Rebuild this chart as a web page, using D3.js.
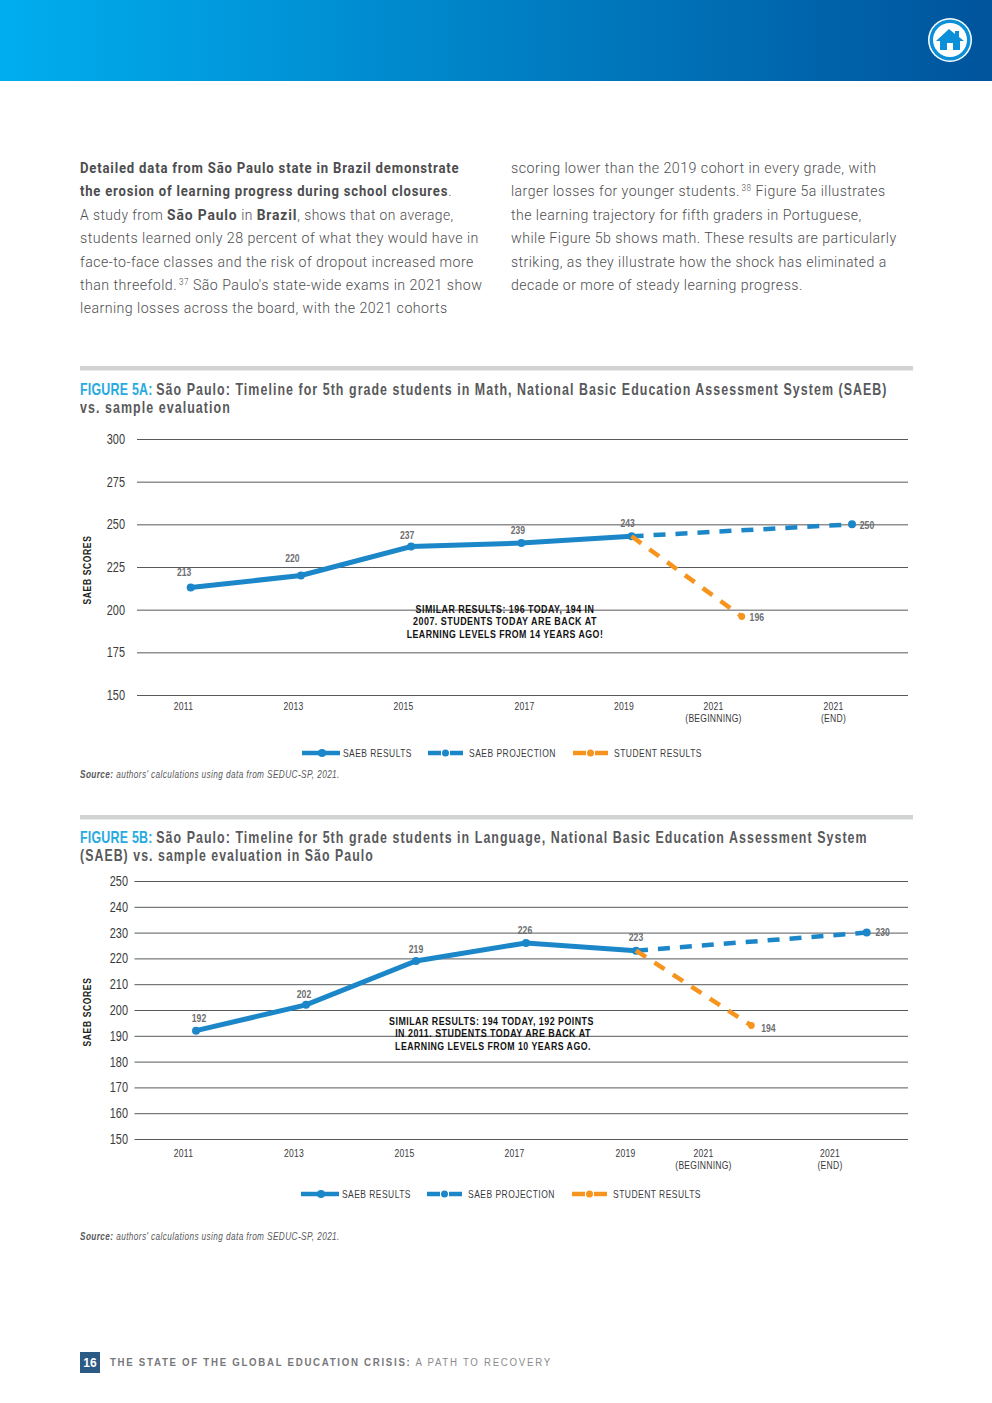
<!DOCTYPE html>
<html lang="en">
<head>
<meta charset="UTF-8"/>
<title>Figure 5</title>
<script src="https://d3js.org/d3.v7.min.js"></script>
<style>
	body { margin: 0; background: #fff; }
	svg { display: block; }
	text { font-family: "Liberation Sans", sans-serif; }
	.body-text { font-family: Roboto, "Liberation Sans", sans-serif; font-size: 15.5px; font-weight: 300; fill: #4d4d4f; letter-spacing: 0.5px; }
	.title { font-size: 16.5px; font-weight: bold; fill: #58595b; letter-spacing: 1.4px; }
	.y-axis text { font-size: 14px; fill: #3a3a3c; }
	.x-axis text { font-size: 11px; fill: #3a3a3c; letter-spacing: 0.3px; }
	.y-title { font-size: 10.5px; font-weight: bold; fill: #231f20; letter-spacing: 0.8px; }
	.value { font-size: 10.5px; font-weight: bold; fill: #6d6e71; }
	.note { font-size: 11px; font-weight: bold; fill: #111; letter-spacing: 0.6px; }
	.legend { font-size: 11px; fill: #3a3a3c; letter-spacing: 0.6px; }
	.source { font-size: 10.5px; font-style: italic; fill: #58595b; letter-spacing: 0.5px; }
</style>
</head>
<body>
<script>
var w = 992;
var h = 1403;

var categories = ["2011", "2013", "2015", "2017", "2019", "2021 (BEGINNING)", "2021 (END)"];
var seriesNames = ["SAEB RESULTS", "SAEB PROJECTION", "STUDENT RESULTS"];

// figure 5a
var mathResults = [213, 220, 237, 239, 243];
var mathProjection = [243, 250];
var mathStudents = [243, 196];
var mathTicks = [150, 175, 200, 225, 250, 275, 300];

// figure 5b
var langResults = [192, 202, 219, 226, 223];
var langProjection = [223, 230];
var langStudents = [223, 194];
var langTicks = [150, 160, 170, 180, 190, 200, 210, 220, 230, 240, 250];

var blue = "#1b87c9";
var orange = "#f7941d";

var svg = d3.select("body").append("svg")
	.attr("width", w)
	.attr("height", h);

// no condensed face is installed, so text is squeezed horizontally around its own x
function squeeze(sel, k) {
	sel.each(function() {
		var x = +this.getAttribute("x") || 0;
		this.setAttribute("transform", "translate(" + x + ",0) scale(" + k + ",1) translate(" + (-x) + ",0)");
	});
}
// squeeze one text to the width it has in the page
function fit(sel, width) {
	squeeze(sel, width / sel.node().getComputedTextLength());
}

// header band
var grad = svg.append("defs").append("linearGradient").attr("id", "band");
grad.append("stop").attr("offset", "0%").attr("stop-color", "#00aeef");
grad.append("stop").attr("offset", "100%").attr("stop-color", "#00549c");
svg.append("rect").attr("width", w).attr("height", 81).attr("fill", "url(#band)");

// home button
var home = svg.append("g").attr("transform", "translate(950,40)");
home.append("circle").attr("r", 22).attr("fill", "#fff");
home.append("circle").attr("r", 20.5).attr("fill", "#0b8fd8");
home.append("circle").attr("r", 17).attr("fill", "#fff");
home.append("path").attr("fill", "#0b8fd8")
	.attr("d", "M-14,1 L-1,-11 L5,-6 L5,-9 L9,-9 L9,-3 L14,1 L10,1 L10,10 L3,10 L3,3 L-3,3 L-3,10 L-10,10 L-10,1 Z");

// intro text, one array per line: [text, 0 plain / 1 bold / 2 superscript]
var introLeft = [
	[["Detailed data from São Paulo state in Brazil demonstrate", 1]],
	[["the erosion of learning progress during school closures", 1], [".", 0]],
	[["A study from ", 0], ["São Paulo", 1], [" in ", 0], ["Brazil", 1], [", shows that on average,", 0]],
	[["students learned only 28 percent of what they would have in", 0]],
	[["face-to-face classes and the risk of dropout increased more", 0]],
	[["than threefold.", 0], ["37", 2], [" São Paulo's state-wide exams in 2021 show", 0]],
	[["learning losses across the board, with the 2021 cohorts", 0]]
];
var introLeftWidths = [380, 372, 374, 399, 394, 401, 368];
var introRight = [
	[["scoring lower than the 2019 cohort in every grade, with", 0]],
	[["larger losses for younger students.", 0], ["38", 2], [" Figure 5a illustrates", 0]],
	[["the learning trajectory for fifth graders in Portuguese,", 0]],
	[["while Figure 5b shows math. These results are particularly", 0]],
	[["striking, as they illustrate how the shock has eliminated a", 0]],
	[["decade or more of steady learning progress.", 0]]
];
var introRightWidths = [366, 373, 351, 386, 376, 292];

function drawLines(lines, widths, x, y0, step) {
	lines.forEach(function(line, i) {
		var t = svg.append("text").attr("class", "body-text")
			.attr("x", x).attr("y", y0 + i * step);
		line.forEach(function(seg, j) {
			var s = t.append("tspan").text(seg[0]);
			if (seg[1] == 1) {
				s.attr("font-weight", "bold").attr("letter-spacing", "0.95px");
			}
			if (seg[1] == 2) {
				s.attr("font-size", "9px").attr("dy", "-5").attr("dx", "2");
			} else if (j > 0 && line[j - 1][1] == 2) {
				// back down after a superscript
				s.attr("dy", "5");
			}
		});
		fit(t, widths[i]);
	});
}
drawLines(introLeft, introLeftWidths, 80, 173, 23.4);
drawLines(introRight, introRightWidths, 511, 173, 23.4);

function drawChart(c) {
	// figure rule and title
	svg.append("rect").attr("x", 80).attr("y", c.ruleY).attr("width", 833).attr("height", 4.5).attr("fill", "#d1d3d4");
	c.title.forEach(function(line, i) {
		var t = svg.append("text").attr("class", "title").attr("x", 80).attr("y", c.titleY + i * 18);
		if (i == 0) t.append("tspan").attr("fill", "#27aae1").attr("letter-spacing", "0.3px").text(c.figure + " ");
		t.append("tspan").text(line);
		fit(t, c.titleWidths[i]);
	});

	var x = d3.scaleLinear().domain(c.xKnots).range(c.xRange);
	var y = d3.scaleLinear().domain([150, d3.max(c.ticks)]).range(c.yRange);
	var line = d3.line().x(function(d) { return x(d[0]); }).y(function(d) { return y(d[1]); });

	// gridlines come from the y axis ticks
	var yAxis = svg.append("g").attr("class", "y-axis")
		.attr("transform", "translate(" + c.left + ",0)")
		.call(d3.axisLeft(y).tickValues(c.ticks).tickSize(-(908 - c.left)).tickPadding(c.yPad));
	yAxis.select(".domain").remove();
	yAxis.selectAll("line").attr("stroke", "#58595b").attr("stroke-width", 1);
	squeeze(yAxis.selectAll("text"), 0.78);

	// x labels do not sit under their points in the original, so an ordinal scale places them
	var xLabel = d3.scaleOrdinal().domain(categories).range(c.labelX);
	var xAxis = svg.append("g").attr("class", "x-axis")
		.attr("transform", "translate(0," + c.yRange[0] + ")")
		.call(d3.axisBottom(xLabel).tickSize(0).tickPadding(c.xPad));
	xAxis.select(".domain").remove();
	xAxis.selectAll("text").each(function(d) {
		var parts = d.split(" ");
		var t = d3.select(this).text(null);
		parts.forEach(function(p, i) {
			t.append("tspan").attr("x", 0).attr("dy", i ? "1.08em" : "0.71em").text(p);
		});
	});
	squeeze(xAxis.selectAll("text"), 0.78);

	svg.append("text").attr("class", "y-title")
		.attr("transform", "translate(91," + c.yTitleY + ") rotate(-90) scale(0.81,1)")
		.attr("text-anchor", "middle").text("SAEB SCORES");

	var results = c.results.map(function(v, i) { return [i, v]; });
	var projection = c.projection.map(function(v, i) { return [i == 0 ? 4 : 6, v]; });
	var students = c.students.map(function(v, i) { return [i == 0 ? 4 : 5, v]; });

	svg.append("path").datum(projection).attr("d", line).attr("fill", "none")
		.attr("stroke", blue).attr("stroke-width", 4.5).attr("stroke-dasharray", "12 10");
	svg.append("path").datum(results).attr("d", line).attr("fill", "none")
		.attr("stroke", blue).attr("stroke-width", 5);

	svg.selectAll(null).data(results.concat([projection[1]])).enter().append("circle")
		.attr("cx", function(d) { return x(d[0]); })
		.attr("cy", function(d) { return y(d[1]); })
		.attr("r", 4).attr("fill", blue);

	svg.append("path").datum(students).attr("d", line).attr("fill", "none")
		.attr("stroke", orange).attr("stroke-width", 4.5).attr("stroke-dasharray", "12 10");
	svg.append("circle").attr("cx", x(5)).attr("cy", y(c.students[1])).attr("r", 3.4).attr("fill", orange);

	// value labels
	var labelled = results.concat([students[1], projection[1]]);
	var values = svg.selectAll(null).data(labelled).enter().append("text").attr("class", "value")
		.attr("text-anchor", "middle")
		.attr("x", function(d, i) { return x(d[0]) + c.valueDx[i]; })
		.attr("y", function(d, i) { return y(d[1]) + c.valueDy[i]; })
		.text(function(d) { return d[1]; });
	squeeze(values, 0.82);

	// annotation
	c.note.forEach(function(n, i) {
		var t = svg.append("text").attr("class", "note").attr("text-anchor", "middle")
			.attr("x", c.noteX[i]).attr("y", c.noteY + Math.round(i * 12.4)).text(n);
		fit(t, c.noteWidths[i]);
	});

	// legend
	var lg = svg.append("g").attr("transform", "translate(" + c.legendX + "," + c.legendY + ")");
	var swatch = d3.scaleOrdinal().domain(seriesNames).range([302, 428, 573]);
	var legendWidths = [69, 87, 88];
	seriesNames.forEach(function(name, i) {
		var col = i == 2 ? orange : blue;
		var x0 = swatch(name);
		var len = i == 0 ? 38 : 35;
		lg.append("line").attr("x1", x0).attr("x2", x0 + len)
			.attr("stroke", col).attr("stroke-width", 4.5)
			.attr("stroke-dasharray", i == 0 ? null : "13 9 13");
		lg.append("circle").attr("cx", x0 + len / 2 + (i == 0 ? 1 : 0)).attr("r", i == 0 ? 4 : 3.5).attr("fill", col);
		var t = lg.append("text").attr("class", "legend").attr("x", x0 + len + (i == 0 ? 3 : 6)).attr("y", 4).text(name);
		fit(t, legendWidths[i]);
	});

	// source line
	var src = svg.append("text").attr("class", "source").attr("x", 80).attr("y", c.sourceY);
	src.append("tspan").attr("font-weight", "bold").text("Source:");
	src.append("tspan").text(" authors' calculations using data from SEDUC-SP, 2021.");
	fit(src, 260);
}

drawChart({
	figure: "FIGURE 5A:",
	title: ["São Paulo: Timeline for 5th grade students in Math, National Basic Education Assessment System (SAEB)", "vs. sample evaluation"],
	titleWidths: [808, 151],
	ruleY: 366, titleY: 395,
	results: mathResults, projection: mathProjection, students: mathStudents, ticks: mathTicks,
	left: 137, yPad: 12, xPad: 7,
	xKnots: [0, 6], xRange: [190.7, 852], yRange: [695, 439],
	labelX: [183, 293, 403, 524, 623.5, 713, 833],
	valueDx: [-6.5, -8.5, -4, -3.5, -4, 15, 15],
	valueDy: [-11, -13.5, -8, -9, -9, 5, 5],
	yTitleY: 570,
	note: ["SIMILAR RESULTS: 196 TODAY, 194 IN", "2007. STUDENTS TODAY ARE BACK AT", "LEARNING LEVELS FROM 14 YEARS AGO!"],
	noteX: [505, 505, 505], noteWidths: [179, 184, 197], noteY: 613,
	legendX: 0, legendY: 753, sourceY: 778.5
});

drawChart({
	figure: "FIGURE 5B:",
	title: ["São Paulo: Timeline for 5th grade students in Language, National Basic Education Assessment System", "(SAEB) vs. sample evaluation in São Paulo"],
	titleWidths: [788, 294],
	ruleY: 815, titleY: 843,
	results: langResults, projection: langProjection, students: langStudents, ticks: langTicks,
	left: 134.5, yPad: 6.5, xPad: 10,
	xKnots: [0, 4, 6], xRange: [196, 636, 866.7], yRange: [1139, 881],
	labelX: [183, 293.5, 404, 514, 625, 703, 829.5],
	valueDx: [3, -2, 0, -1, 0, 17, 16],
	valueDy: [-9, -7, -8, -9, -10, 7, 3],
	yTitleY: 1012,
	note: ["SIMILAR RESULTS: 194 TODAY, 192 POINTS", "IN 2011. STUDENTS TODAY ARE BACK AT", "LEARNING LEVELS FROM 10 YEARS AGO."],
	noteX: [491.5, 493, 493], noteWidths: [205, 196, 196], noteY: 1025,
	legendX: -1, legendY: 1194, sourceY: 1240.5
});

// footer
svg.append("rect").attr("x", 80).attr("y", 1352).attr("width", 20).attr("height", 21).attr("fill", "#2b5a85");
svg.append("text").attr("x", 90).attr("y", 1366.5).attr("text-anchor", "middle")
	.attr("fill", "#fff").style("font-size", "12px").style("font-weight", "bold").text("16");
var foot = svg.append("text").attr("x", 110).attr("y", 1366)
	.style("font-size", "10px").style("letter-spacing", "1.75px");
foot.append("tspan").attr("fill", "#77787b").attr("font-weight", "bold").text("THE STATE OF THE GLOBAL EDUCATION CRISIS:");
foot.append("tspan").attr("fill", "#8a8c8e").text(" A PATH TO RECOVERY");
fit(foot, 442);
</script>
</body>
</html>
